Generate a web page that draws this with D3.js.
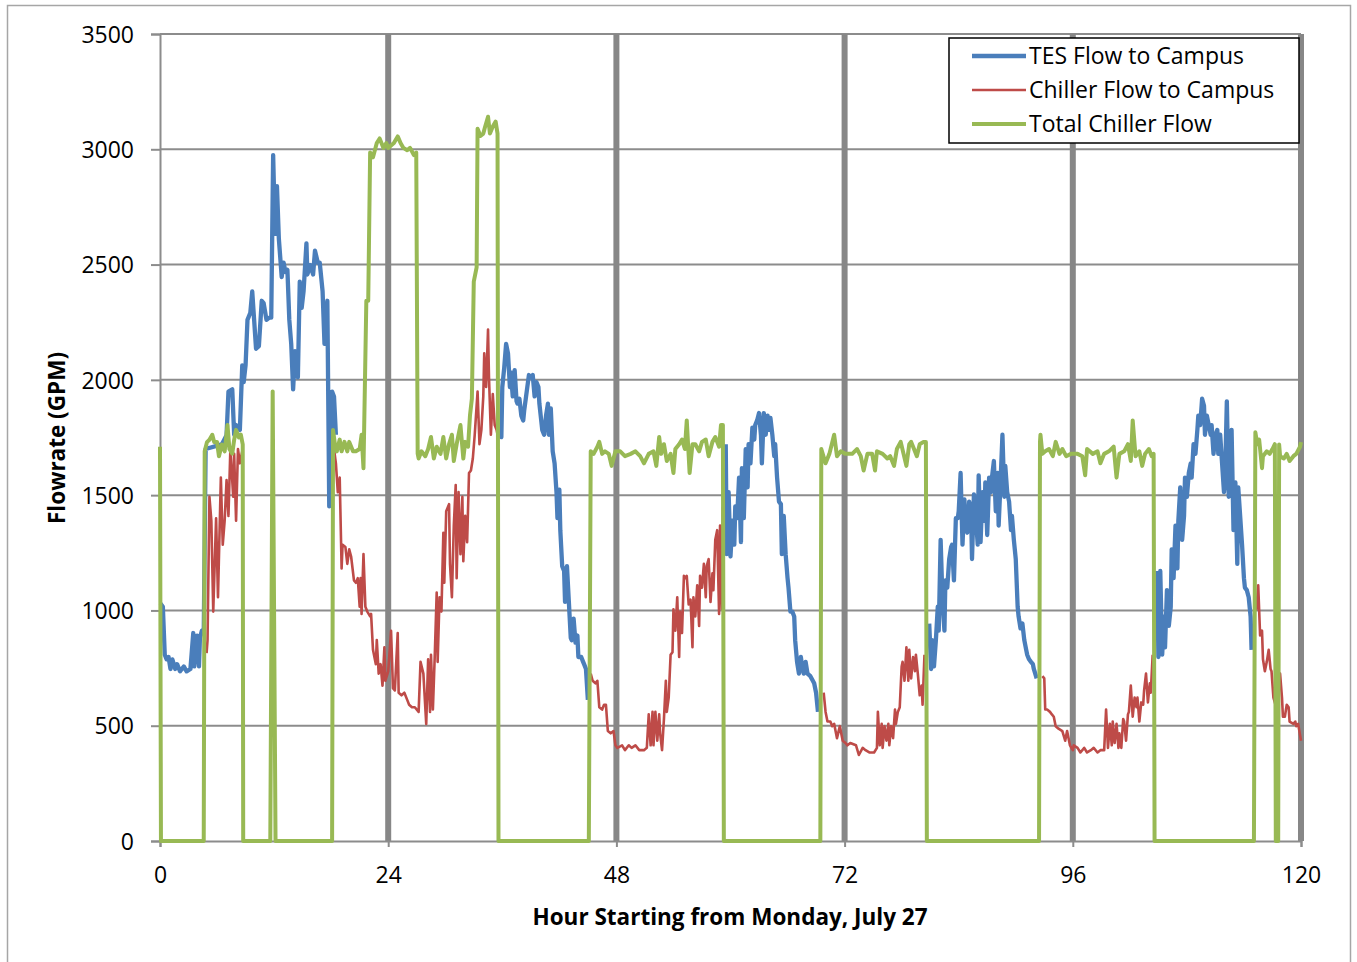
<!DOCTYPE html>
<html>
<head>
<meta charset="utf-8">
<script src="https://cdn.jsdelivr.net/npm/d3@7"></script>
<style>
  body { margin: 0; background: #fff; }
</style>
</head>
<body>
<div id="chart"></div>
<script>

var hourTicks = [0, 24, 48, 72, 96, 120];
var flowTicks = [0, 500, 1000, 1500, 2000, 2500, 3000, 3500];
var seriesNames = ["TES Flow to Campus", "Chiller Flow to Campus", "Total Chiller Flow"];

var tesFlow = [
  [0.05,1030],[0.3,1016],[0.5,808],[0.7,788],[0.9,798],[1.1,746],[1.3,788],[1.6,746],[1.8,767],[2.1,736],
  [2.5,757],[2.8,736],[3.2,746],[3.5,902],[3.6,757],[3.9,891],[4.1,757],[4.2,881],[4.4,912],[4.6,900],
  [4.8,1700],[6.5,1720],[7.0,1760],[7.2,1949],[7.6,1959],[7.8,1762],[8.0,1804],[8.4,1783],[8.65,2063],[8.8,1990],
  [9.0,2063],[9.2,2260],[9.5,2291],[9.7,2384],[9.9,2260],[10.1,2135],[10.4,2146],[10.7,2343],[10.9,2333],[11.2,2260],
  [11.5,2270],[11.7,2270],[11.9,2975],[12.1,2633],[12.3,2840],[12.5,2612],[12.8,2446],[13.0,2508],[13.2,2467],[13.4,2477],
  [13.6,2260],[13.8,2156],[14.0,1959],[14.2,2125],[14.5,2011],[14.7,2426],[14.9,2312],[15.1,2384],[15.4,2592],[15.5,2457],
  [15.8,2498],[16.1,2457],[16.3,2560],[16.6,2508],[16.8,2508],[17.1,2384],[17.3,2156],[17.6,2343],[17.8,1451],[17.9,1513],
  [18.1,1949],[18.3,1928],[18.5,1762],[18.5,null],
  [35.6,1762],[35.9,1752],[36.0,1969],[36.2,2052],[36.4,2156],[36.6,2115],[36.8,1969],[36.9,2032],[37.1,1928],[37.3,2042],
  [37.5,1907],[37.6,1897],[37.8,1918],[38.0,1845],[38.2,1824],[38.3,1866],[38.6,1959],[38.8,2021],[39.0,2011],[39.2,2021],
  [39.4,1928],[39.6,1990],[39.8,1969],[39.9,1897],[40.2,1783],[40.4,1762],[40.6,1845],[40.8,1897],[40.9,1762],[41.1,1876],
  [41.3,1690],[41.5,1638],[41.7,1513],[41.8,1400],[42.0,1524],[42.1,1348],[42.3,1192],[42.5,1171],[42.6,1037],[42.8,1192],
  [43.0,1037],[43.2,881],[43.3,871],[43.5,964],[43.7,860],[43.9,891],[44.0,798],[44.3,798],[44.5,777],[44.6,767],
  [44.8,746],[45.0,612],[45.0,null],
  [59.5,1721],[59.6,1244],[59.8,1513],[60.0,1234],[60.2,1389],[60.4,1285],[60.5,1451],[60.7,1400],[60.9,1576],[61.1,1296],
  [61.2,1617],[61.4,1400],[61.6,1700],[61.8,1534],[61.9,1721],[62.1,1638],[62.3,1793],[62.5,1741],[62.6,1804],[62.8,1824],
  [63.0,1856],[63.2,1762],[63.3,1638],[63.5,1856],[63.7,1762],[63.9,1845],[64.0,1783],[64.2,1835],[64.4,1762],[64.6,1669],
  [64.7,1721],[64.9,1576],[65.1,1472],[65.3,1461],[65.4,1244],[65.6,1410],[65.8,1244],[66.0,1140],[66.1,1099],[66.3,995],
  [66.5,995],[66.7,974],[66.8,871],[67.0,777],[67.2,726],[67.4,798],[67.5,767],[67.7,726],[67.9,777],[68.1,726],
  [68.4,715],[68.8,684],[69.0,643],[69.2,560],[69.2,null],
  [80.9,943],[81.1,746],[81.2,871],[81.4,757],[81.6,871],[81.8,1016],[81.9,912],[82.1,1306],[82.3,1037],[82.5,912],
  [82.6,1130],[82.8,1099],[83.0,1223],[83.2,1275],[83.3,1285],[83.5,1130],[83.7,1400],[83.9,1400],[84.0,1430],[84.2,1596],
  [84.4,1285],[84.6,1482],[84.7,1389],[84.9,1337],[85.1,1472],[85.3,1430],[85.4,1223],[85.6,1503],[85.8,1410],[86.0,1285],
  [86.1,1586],[86.3,1296],[86.5,1513],[86.7,1389],[86.8,1555],[87.0,1327],[87.2,1576],[87.4,1513],[87.5,1576],[87.7,1648],
  [87.9,1430],[88.1,1596],[88.2,1368],[88.4,1555],[88.6,1762],[88.8,1493],[88.9,1627],[89.1,1513],[89.3,1472],[89.5,1348],
  [89.6,1410],[89.8,1306],[90.0,1223],[90.2,1016],[90.3,974],[90.5,922],[90.7,943],[90.9,871],[91.1,829],[91.2,808],
  [91.4,788],[91.6,777],[91.8,767],[91.9,746],[92.2,705],[92.2,null],
  [104.9,1171],[105.0,798],[105.2,1171],[105.4,808],[105.6,974],[105.7,840],[105.9,1088],[106.1,933],[106.3,1016],[106.4,1265],
  [106.6,1140],[106.8,1368],[107.0,1182],[107.1,1389],[107.3,1534],[107.5,1306],[107.7,1410],[107.8,1576],[108.0,1493],[108.2,1596],
  [108.4,1638],[108.5,1576],[108.7,1721],[108.9,1679],[109.1,1783],[109.2,1845],[109.4,1804],[109.6,1918],[109.8,1887],[109.9,1762],
  [110.1,1845],[110.3,1804],[110.5,1762],[110.6,1804],[110.8,1679],[111.0,1762],[111.2,1783],[111.3,1679],[111.5,1762],[111.7,1638],
  [111.9,1513],[112.0,1555],[112.2,1907],[112.4,1493],[112.6,1700],[112.7,1783],[112.9,1348],[113.1,1555],[113.3,1202],[113.4,1534],
  [113.6,1410],[113.8,1285],[114.0,1140],[114.1,1099],[114.3,1088],[114.5,1057],[114.7,974],[114.8,829]
];

var chillerFlow = [
  [4.9,815],[5.0,871],[5.2,1493],[5.4,1389],[5.6,995],[5.9,1400],[6.1,1057],[6.4,1576],[6.6,1285],[6.8,1389],
  [7.0,1565],[7.2,1410],[7.4,1700],[7.7,1493],[7.8,1679],[8.0,1389],[8.2,1700],[8.4,1638],[8.7,1700],[8.7,null],
  [18.3,1700],[18.5,1638],[18.7,1513],[18.9,1576],[19.1,1182],[19.2,1285],[19.5,1275],[19.7,1202],[19.9,1265],[20.1,1234],
  [20.4,1130],[20.6,1120],[20.8,1140],[21.0,1016],[21.1,1140],[21.2,985],[21.4,1244],[21.6,1016],[21.8,995],[22.1,974],
  [22.2,985],[22.4,829],[22.7,767],[22.8,871],[23.0,726],[23.2,767],[23.4,674],[23.6,840],[23.7,695],[24.0,736],
  [24.3,912],[24.5,663],[24.7,653],[25.0,902],[25.1,643],[25.4,632],[25.7,643],[26.0,612],[26.2,591],[26.5,580],
  [26.8,580],[27.2,560],[27.4,777],[27.7,726],[28.0,508],[28.2,788],[28.4,560],[28.5,808],[28.7,570],[28.9,808],
  [29.1,1078],[29.2,777],[29.4,1057],[29.6,995],[29.8,1337],[29.9,1120],[30.1,1430],[30.4,1461],[30.5,1202],[30.7,1057],
  [30.9,1368],[31.1,1544],[31.2,1140],[31.4,1513],[31.6,1244],[31.8,1493],[31.9,1213],[32.1,1410],[32.3,1296],[32.5,1596],
  [32.7,1607],[32.9,1659],[33.1,1762],[33.3,1887],[33.4,1949],[33.6,1721],[33.8,1783],[34.0,1928],[34.1,2115],[34.3,1969],
  [34.5,2218],[34.6,2011],[34.8,1762],[35.0,1938],[35.2,1804],[35.4,1783],[35.5,1762],[35.5,null],
  [45.3,726],[45.5,695],[45.8,684],[46.0,695],[46.2,580],[46.5,570],[46.7,591],[46.9,591],[47.1,477],[47.4,467],
  [47.7,477],[47.9,415],[48.1,404],[48.6,415],[48.9,394],[49.3,415],[49.6,404],[50.0,415],[50.4,394],[50.9,394],
  [51.2,404],[51.4,549],[51.6,415],[51.8,560],[51.9,415],[52.1,560],[52.3,435],[52.5,549],[52.6,467],[52.8,394],
  [53.0,529],[53.2,695],[53.3,560],[53.5,622],[53.7,808],[53.9,819],[54.0,1005],[54.2,912],[54.4,1057],[54.6,798],
  [54.7,995],[54.9,902],[55.1,1150],[55.3,1140],[55.4,1150],[55.6,1026],[55.8,1047],[56.0,840],[56.1,1057],[56.3,974],
  [56.5,1109],[56.7,933],[56.8,1150],[57.0,1099],[57.2,1202],[57.4,1057],[57.5,1192],[57.7,1223],[57.9,1037],[58.1,1161],
  [58.2,1088],[58.4,1306],[58.6,1348],[58.8,985],[58.9,1368],[59.1,1005],[59.2,1450],[59.2,null],
  [69.8,643],[70.0,560],[70.2,518],[70.5,518],[70.7,498],[70.9,508],[71.2,446],[71.5,498],[71.8,435],[72.1,425],
  [72.3,415],[72.6,425],[73.2,415],[73.5,373],[73.9,404],[74.2,394],[74.6,384],[75.1,384],[75.4,404],[75.5,560],
  [75.7,415],[75.9,508],[76.0,404],[76.2,498],[76.4,435],[76.6,508],[76.7,415],[76.9,498],[77.1,446],[77.3,570],
  [77.4,508],[77.6,560],[77.8,580],[78.0,757],[78.1,777],[78.3,695],[78.5,840],[78.7,695],[78.8,829],[79.0,705],
  [79.2,798],[79.4,736],[79.5,808],[79.7,726],[79.9,632],[80.1,674],[80.2,591],[80.4,808],[80.4,null],
  [92.8,715],[93.0,705],[93.1,570],[93.3,570],[93.6,560],[93.8,549],[94.0,539],[94.2,498],[94.5,487],[94.9,477],
  [95.2,435],[95.4,477],[95.7,415],[96.0,394],[96.1,415],[96.5,404],[96.8,384],[97.2,404],[97.5,384],[97.9,394],
  [98.2,404],[98.6,384],[98.9,394],[99.3,394],[99.5,570],[99.7,404],[99.9,508],[100.1,415],[100.2,518],[100.4,425],
  [100.6,508],[100.8,404],[100.9,467],[101.1,404],[101.3,529],[101.4,518],[101.6,435],[101.8,549],[101.9,560],[102.1,674],
  [102.3,539],[102.5,622],[102.7,580],[102.8,622],[103.0,518],[103.2,601],[103.4,591],[103.5,653],[103.7,726],[103.9,601],
  [104.1,684],[104.2,643],[104.4,808],[104.4,null],
  [115.3,1000],[115.5,1109],[115.7,891],[115.9,912],[116.0,788],[116.2,736],[116.4,777],[116.6,829],[116.8,746],[116.9,736],
  [117.1,622],[117.4,580],[117.8,726],[118.0,622],[118.1,539],[118.3,539],[118.5,591],[118.7,580],[118.8,518],[119.2,508],
  [119.4,518],[119.5,498],[119.7,508],[120.0,435]
];

var totalChillerFlow = [
  [0,1710],[0.1,0],[4.6,0],[4.7,1690],[4.94,1730],[5.2,1740],[5.5,1762],[5.7,1730],[6.0,1730],[6.2,1669],
  [6.5,1720],[6.8,1690],[7.1,1804],[7.3,1700],[7.6,1680],[7.8,1740],[8.0,1783],[8.3,1750],[8.5,1762],[8.7,1720],
  [8.75,0],[11.6,0],[11.85,1950],[12.15,0],[18.1,0],[18.2,1783],[18.4,1720],[18.6,1690],[18.9,1741],[19.1,1690],
  [19.4,1731],[19.7,1690],[19.9,1731],[20.3,1690],[20.6,1690],[21.0,1700],[21.2,1762],[21.4,1617],[21.7,2343],[21.9,2343],
  [22.1,2986],[22.4,2965],[22.8,3027],[23.1,3047],[23.5,3006],[23.8,3027],[24.0,3006],[24.6,3027],[25.0,3056],[25.3,3027],
  [25.6,3006],[26.0,2996],[26.3,3006],[26.7,2975],[26.95,2986],[27.1,1680],[27.2,1659],[27.5,1690],[27.9,1669],[28.2,1700],
  [28.5,1752],[28.8,1659],[29.1,1710],[29.5,1679],[29.8,1752],[30.1,1659],[30.4,1721],[30.7,1762],[30.9,1648],[31.2,1721],
  [31.6,1804],[31.9,1659],[32.1,1731],[32.4,1710],[32.6,1845],[32.8,1918],[33.0,2426],[33.3,2488],[33.4,3089],[33.7,3058],
  [34.0,3068],[34.2,3099],[34.5,3141],[34.7,3068],[35.0,3099],[35.3,3120],[35.5,3068],[35.6,0],[45.1,0],[45.3,1690],
  [45.6,1679],[46.0,1710],[46.2,1731],[46.5,1679],[46.8,1690],[47.2,1679],[47.5,1627],[47.9,1690],[48.4,1690],[48.9,1669],
  [49.5,1679],[50.0,1690],[50.5,1669],[50.9,1638],[51.4,1679],[51.9,1690],[52.2,1627],[52.5,1752],[52.7,1679],[53.0,1721],
  [53.3,1648],[53.7,1679],[54.0,1596],[54.2,1700],[54.6,1721],[54.9,1741],[55.2,1700],[55.4,1824],[55.7,1596],[56.0,1721],
  [56.3,1721],[56.7,1690],[57.0,1731],[57.4,1741],[57.7,1669],[58.1,1731],[58.4,1752],[58.8,1710],[59.0,1804],[59.2,1804],
  [59.3,0],[69.45,0],[69.55,1700],[70.0,1638],[70.4,1679],[70.9,1762],[71.2,1669],[71.6,1690],[72.1,1679],[72.3,1679],
  [72.8,1679],[73.3,1700],[73.7,1669],[74.0,1607],[74.4,1679],[74.9,1679],[75.2,1607],[75.4,1690],[76.0,1679],[76.5,1659],
  [76.8,1669],[77.2,1627],[77.5,1700],[77.9,1731],[78.2,1679],[78.5,1627],[78.8,1721],[79.0,1731],[79.3,1700],[79.6,1669],
  [79.9,1721],[80.3,1731],[80.55,1731],[80.65,0],[92.45,0],[92.55,1731],[92.6,1762],[92.8,1679],[93.1,1690],[93.5,1700],
  [93.9,1669],[94.2,1731],[94.6,1679],[94.9,1700],[95.3,1669],[95.8,1679],[96.5,1679],[97.0,1669],[97.3,1586],[97.5,1700],
  [98.1,1679],[98.6,1690],[98.9,1638],[99.3,1679],[99.8,1690],[100.3,1710],[100.6,1576],[100.9,1679],[101.4,1690],[101.8,1721],
  [102.1,1648],[102.3,1824],[102.6,1669],[103.0,1690],[103.3,1627],[103.6,1679],[104.0,1700],[104.3,1669],[104.5,1679],[104.6,0],
  [115.05,0],[115.2,1773],[115.4,1721],[115.6,1741],[115.9,1617],[116.0,1669],[116.4,1690],[116.7,1679],[117.0,1700],[117.25,1721],
  [117.35,0],[117.6,0],[117.7,1720],[117.8,1669],[118.2,1659],[118.5,1679],[118.8,1648],[119.2,1669],[119.5,1679],[119.9,1710],
  [120.0,1730]
];

/* Initial value */
var inputWidth = 1357,
    inputHeight = 962,
    fontFamily = "'Open Sans', 'Noto Sans', sans-serif",
    fontSize = 23,
    titleSize = 22.5,
    gridColor = "#8c8c8c";

var plot = { left: 160, right: 1301, top: 34, bottom: 841 };

var seriesColor = ["#4a7ebb", "#be4b48", "#98b954"],
    seriesWidth = [4.3, 2.6, 4];

/* Scales */
var x = d3.scaleLinear().domain([0, 120]).range([plot.left, plot.right]);
var y = d3.scaleLinear().domain([0, 3500]).range([plot.bottom, plot.top]);

/* Overall SVG Container */
var svg = d3.select("#chart")
    .append("svg")
    .attr("width", inputWidth)
    .attr("height", inputHeight)
    .style("display", "block");

/* Outer chart border */
svg.append("rect")
    .attr("x", 7.5)
    .attr("y", 5.5)
    .attr("width", 1343)
    .attr("height", 990)
    .attr("fill", "#fff")
    .attr("stroke", "#a6a6a6")
    .attr("stroke-width", 1.5);

/* Horizontal gridlines */
svg.append("g")
    .selectAll("line")
    .data(flowTicks.slice(1))
    .enter().append("line")
    .attr("x1", plot.left)
    .attr("x2", plot.right)
    .attr("y1", function(d) { return y(d); })
    .attr("y2", function(d) { return y(d); })
    .attr("stroke", gridColor)
    .attr("stroke-width", 2);

/* Heavy day separators */
svg.append("g")
    .selectAll("line")
    .data(hourTicks.slice(1))
    .enter().append("line")
    .attr("x1", function(d) { return x(d); })
    .attr("x2", function(d) { return x(d); })
    .attr("y1", plot.top)
    .attr("y2", plot.bottom)
    .attr("stroke", "#878787")
    .attr("stroke-width", 6);

/* Axes */
var yAxis = svg.append("g")
    .attr("transform", "translate(" + plot.left + ",0)")
    .call(d3.axisLeft(y).tickValues(flowTicks).tickFormat(d3.format("d")).tickSize(9).tickPadding(17));

var xAxis = svg.append("g")
    .attr("transform", "translate(0," + plot.bottom + ")")
    .call(d3.axisBottom(x).tickValues(hourTicks).tickFormat(d3.format("d")).tickSize(6).tickPadding(20));

[yAxis, xAxis].forEach(function(ax) {
    ax.select(".domain").attr("stroke", gridColor).attr("stroke-width", 2);
    ax.selectAll(".tick line").attr("stroke", gridColor).attr("stroke-width", 2);
    ax.selectAll(".tick text")
        .attr("font-family", fontFamily)
        .attr("font-size", fontSize)
        .attr("fill", "#000");
});
yAxis.selectAll(".tick text").attr("dy", "0.36em");

/* Series lines */
var line = d3.line()
    .defined(function(d) { return d[1] !== null; })
    .x(function(d) { return x(d[0]); })
    .y(function(d) { return y(d[1]); });

[tesFlow, chillerFlow, totalChillerFlow].forEach(function(series, i) {
    svg.append("path")
        .datum(series)
        .attr("d", line)
        .attr("fill", "none")
        .attr("stroke", seriesColor[i])
        .attr("stroke-width", seriesWidth[i])
        .attr("stroke-linejoin", "round");
});

/* Axis titles */
svg.append("text")
    .attr("x", 730)
    .attr("y", 925)
    .attr("text-anchor", "middle")
    .attr("font-family", fontFamily)
    .attr("font-size", titleSize)
    .attr("font-weight", "bold")
    .text("Hour Starting from Monday, July 27");

svg.append("text")
    .attr("transform", "translate(65,438) rotate(-90)")
    .attr("text-anchor", "middle")
    .attr("font-family", fontFamily)
    .attr("font-size", titleSize)
    .attr("font-weight", "bold")
    .text("Flowrate (GPM)");

/* Legend */
var legend = svg.append("g")
    .attr("transform", "translate(949,38)");

legend.append("rect")
    .attr("width", 350)
    .attr("height", 105)
    .attr("fill", "#fff")
    .attr("stroke", "#000")
    .attr("stroke-width", 1.5);

var entry = legend.selectAll("g.entry")
    .data(seriesNames)
    .enter().append("g")
    .attr("class", "entry")
    .attr("transform", function(d, i) { return "translate(0," + (18 + i * 34) + ")"; });

entry.append("line")
    .attr("x1", 23)
    .attr("x2", 77)
    .attr("stroke", function(d, i) { return seriesColor[i]; })
    .attr("stroke-width", function(d, i) { return seriesWidth[i]; });

entry.append("text")
    .attr("x", 80)
    .attr("dy", "0.35em")
    .attr("font-family", fontFamily)
    .attr("font-size", fontSize)
    .text(function(d) { return d; });

</script>
</body>
</html>
